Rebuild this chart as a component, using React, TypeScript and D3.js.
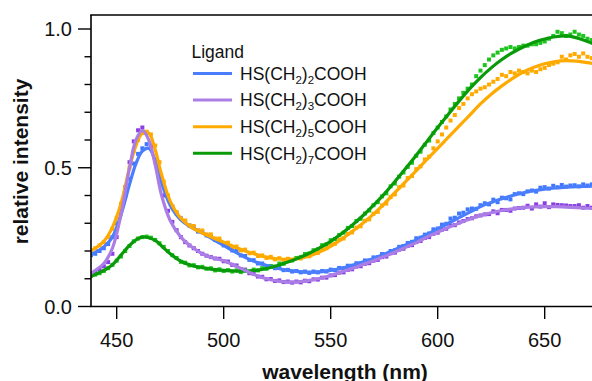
import React from "react";
import * as d3 from "d3";

const W = 592;
const H = 381;

const xTicks = [450, 500, 550, 600, 650];
const yMajor = [0.0, 0.5, 1.0];
const yMinor = [0.1, 0.2, 0.3, 0.4, 0.6, 0.7, 0.8, 0.9];

const legendSubs = ["2", "3", "5", "7"];

const fitWl = [436, 440, 444, 448, 452, 456, 459, 462, 465, 468, 471, 475, 480, 485, 490, 495, 500, 505, 510, 515, 520, 525, 530, 535, 540, 545, 550, 555, 560, 565, 570, 575, 580, 585, 590, 595, 600, 605, 610, 615, 620, 625, 630, 635, 640, 645, 650, 655, 660, 665, 670, 675];

const fitBlue = [0.18, 0.195, 0.215, 0.25, 0.33, 0.44, 0.515, 0.56, 0.57, 0.525, 0.445, 0.365, 0.312, 0.285, 0.265, 0.242, 0.22, 0.198, 0.177, 0.16, 0.148, 0.138, 0.13, 0.126, 0.124, 0.125, 0.13, 0.138, 0.148, 0.16, 0.173, 0.188, 0.205, 0.222, 0.24, 0.26, 0.28, 0.30, 0.32, 0.34, 0.36, 0.375, 0.388, 0.40, 0.41, 0.418, 0.423, 0.427, 0.43, 0.432, 0.433, 0.434];
const fitPurple = [0.11, 0.13, 0.155, 0.21, 0.33, 0.50, 0.60, 0.635, 0.60, 0.51, 0.40, 0.31, 0.25, 0.215, 0.19, 0.175, 0.165, 0.148, 0.13, 0.113, 0.10, 0.092, 0.088, 0.089, 0.094, 0.102, 0.112, 0.124, 0.137, 0.151, 0.165, 0.18, 0.196, 0.213, 0.23, 0.25, 0.268, 0.285, 0.30, 0.315, 0.328, 0.338, 0.346, 0.352, 0.356, 0.359, 0.36, 0.36, 0.358, 0.356, 0.354, 0.352];
const fitOrange = [0.195, 0.21, 0.235, 0.285, 0.37, 0.50, 0.58, 0.625, 0.625, 0.565, 0.475, 0.38, 0.318, 0.285, 0.265, 0.248, 0.232, 0.215, 0.20, 0.188, 0.178, 0.172, 0.17, 0.173, 0.182, 0.197, 0.217, 0.242, 0.27, 0.30, 0.333, 0.37, 0.41, 0.45, 0.49, 0.53, 0.57, 0.61, 0.65, 0.69, 0.73, 0.765, 0.795, 0.822, 0.845, 0.862, 0.875, 0.883, 0.886, 0.884, 0.879, 0.873];
const fitGreen = [0.105, 0.115, 0.13, 0.15, 0.185, 0.22, 0.24, 0.25, 0.248, 0.238, 0.218, 0.19, 0.163, 0.148, 0.14, 0.134, 0.13, 0.128, 0.127, 0.13, 0.137, 0.147, 0.16, 0.175, 0.192, 0.212, 0.235, 0.262, 0.293, 0.327, 0.365, 0.405, 0.45, 0.497, 0.545, 0.595, 0.645, 0.693, 0.74, 0.785, 0.825, 0.86, 0.89, 0.915, 0.935, 0.952, 0.964, 0.972, 0.975, 0.968, 0.955, 0.94];

// measured spectra, 438..672 nm every 2 nm (rows of 10 values = 20 nm)
const dataWl = d3.range(438, 673, 2);

const dataBlue = [
  0.185, 0.19, 0.20, 0.21, 0.225, 0.25, 0.30, 0.345, 0.40, 0.46,
  0.515, 0.55, 0.57, 0.585, 0.57, 0.53, 0.48, 0.43, 0.39, 0.36,
  0.335, 0.318, 0.306, 0.292, 0.285, 0.27, 0.268, 0.256, 0.254, 0.24,
  0.235, 0.22, 0.218, 0.202, 0.20, 0.184, 0.182, 0.168, 0.167, 0.155,
  0.155, 0.146, 0.146, 0.138, 0.139, 0.131, 0.132, 0.126, 0.128, 0.123,
  0.126, 0.121, 0.126, 0.123, 0.128, 0.126, 0.133, 0.131, 0.139, 0.138,
  0.147, 0.147, 0.156, 0.156, 0.166, 0.166, 0.177, 0.178, 0.189, 0.188,
  0.20, 0.203, 0.215, 0.218, 0.229, 0.233, 0.246, 0.248, 0.259, 0.263,
  0.278, 0.281, 0.295, 0.298, 0.317, 0.32, 0.335, 0.338, 0.35, 0.353,
  0.352, 0.365, 0.372, 0.368, 0.385, 0.376, 0.392, 0.39, 0.386, 0.405,
  0.408, 0.405, 0.415, 0.418, 0.414, 0.428, 0.43, 0.425, 0.435, 0.43,
  0.438, 0.432, 0.436, 0.437, 0.433, 0.44, 0.436, 0.44,
];
const dataPurple = [
  0.115, 0.125, 0.135, 0.145, 0.16, 0.19, 0.25, 0.34, 0.43, 0.52,
  0.595, 0.635, 0.645, 0.625, 0.58, 0.53, 0.46, 0.40, 0.345, 0.305,
  0.275, 0.25, 0.232, 0.22, 0.21, 0.20, 0.19, 0.183, 0.178, 0.173,
  0.172, 0.163, 0.162, 0.15, 0.148, 0.135, 0.133, 0.12, 0.118, 0.108,
  0.107, 0.098, 0.099, 0.092, 0.094, 0.088, 0.09, 0.086, 0.09, 0.087,
  0.093, 0.091, 0.098, 0.097, 0.104, 0.104, 0.112, 0.113, 0.122, 0.123,
  0.132, 0.134, 0.144, 0.145, 0.154, 0.156, 0.165, 0.168, 0.178, 0.18,
  0.192, 0.194, 0.205, 0.208, 0.218, 0.221, 0.232, 0.236, 0.247, 0.25,
  0.262, 0.266, 0.277, 0.28, 0.292, 0.293, 0.303, 0.308, 0.315, 0.318,
  0.325, 0.328, 0.332, 0.333, 0.343, 0.336, 0.348, 0.348, 0.345, 0.353,
  0.355, 0.356, 0.363, 0.353, 0.368, 0.36, 0.372, 0.358, 0.368, 0.366,
  0.365, 0.364, 0.362, 0.362, 0.365, 0.356, 0.362, 0.356,
];
const dataOrange = [
  0.20, 0.21, 0.22, 0.232, 0.25, 0.28, 0.32, 0.37, 0.43, 0.50,
  0.56, 0.60, 0.625, 0.63, 0.62, 0.58, 0.52, 0.45, 0.40, 0.36,
  0.34, 0.316, 0.31, 0.292, 0.29, 0.275, 0.274, 0.26, 0.26, 0.245,
  0.245, 0.229, 0.23, 0.214, 0.216, 0.202, 0.205, 0.192, 0.194, 0.182,
  0.184, 0.175, 0.179, 0.17, 0.174, 0.168, 0.172, 0.168, 0.174, 0.173,
  0.182, 0.181, 0.194, 0.193, 0.209, 0.21, 0.224, 0.226, 0.241, 0.245,
  0.262, 0.267, 0.284, 0.289, 0.309, 0.314, 0.334, 0.341, 0.364, 0.371,
  0.394, 0.404, 0.43, 0.436, 0.463, 0.47, 0.495, 0.505, 0.53, 0.54,
  0.57, 0.595, 0.62, 0.645, 0.67, 0.69, 0.715, 0.73, 0.75, 0.765,
  0.775, 0.785, 0.79, 0.80, 0.81, 0.82, 0.835, 0.83, 0.845, 0.84,
  0.85, 0.845, 0.84, 0.85, 0.845, 0.855, 0.86, 0.87, 0.875, 0.88,
  0.90, 0.89, 0.905, 0.91, 0.90, 0.912, 0.90, 0.895,
];
const dataGreen = [
  0.11, 0.115, 0.12, 0.128, 0.138, 0.15, 0.165, 0.18, 0.20, 0.218,
  0.235, 0.245, 0.25, 0.252, 0.248, 0.24, 0.228, 0.215, 0.20, 0.185,
  0.175, 0.161, 0.158, 0.148, 0.149, 0.141, 0.143, 0.136, 0.138, 0.13,
  0.134, 0.128, 0.131, 0.126, 0.13, 0.124, 0.13, 0.126, 0.133, 0.13,
  0.138, 0.136, 0.145, 0.144, 0.155, 0.154, 0.165, 0.166, 0.175, 0.178,
  0.189, 0.191, 0.203, 0.206, 0.221, 0.224, 0.239, 0.243, 0.258, 0.266,
  0.283, 0.29, 0.308, 0.316, 0.335, 0.346, 0.365, 0.376, 0.397, 0.408,
  0.433, 0.443, 0.468, 0.483, 0.503, 0.518, 0.543, 0.558, 0.583, 0.598,
  0.625, 0.645, 0.665, 0.685, 0.71, 0.73, 0.75, 0.77, 0.785, 0.80,
  0.83, 0.85, 0.87, 0.89, 0.905, 0.915, 0.925, 0.93, 0.935, 0.93,
  0.935, 0.94, 0.94, 0.945, 0.945, 0.95, 0.955, 0.965, 0.975, 0.99,
  0.985, 0.975, 0.98, 0.99, 0.98, 0.975, 0.965, 0.96,
];

const series = [
  { sub: legendSubs[0], fit: fitBlue, data: dataBlue, fitColor: "#4a7eff", dataColor: "#3f78ff" },
  { sub: legendSubs[1], fit: fitPurple, data: dataPurple, fitColor: "#ab7ee6", dataColor: "#8a3fe3" },
  { sub: legendSubs[2], fit: fitOrange, data: dataOrange, fitColor: "#ffaa00", dataColor: "#ffaa00" },
  { sub: legendSubs[3], fit: fitGreen, data: dataGreen, fitColor: "#089a08", dataColor: "#1ec41e" },
];
const fitOrder = [0, 2, 3, 1];

const LEFT = 91;
const TOP = 15;
const BOTTOM = 306.5;
const RIGHT = 600;

export default function App() {
  const x = d3.scaleLinear().domain([438, 672]).range([91, 591.76]);
  const y = d3.scaleLinear().domain([0, 1]).range([306.5, 29]);
  const line = d3
    .line<[number, number]>()
    .x((d) => x(d[0]))
    .y((d) => y(d[1]))
    .curve(d3.curveCatmullRom.alpha(0.5));
  const font = "'Liberation Sans', Arial, Helvetica, sans-serif";
  const ms = 4;

  return (
    <svg
      width={W}
      height={H}
      style={{ position: "absolute", left: 0, top: 0, background: "#fff" }}
      fontFamily={font}
    >
      <defs>
        <clipPath id="plot">
          <rect x={LEFT} y={TOP} width={RIGHT - LEFT} height={BOTTOM - TOP} />
        </clipPath>
      </defs>
      <g clipPath="url(#plot)">
        {series.map((s, i) => (
          <g key={"d" + i} fill={s.dataColor}>
            {dataWl.map((w, j) =>
              s.data[j] === undefined ? null : (
                <rect key={j} x={x(w) - ms / 2} y={y(s.data[j]) - ms / 2} width={ms} height={ms} />
              )
            )}
          </g>
        ))}
        {fitOrder.map((i) => {
          const s = series[i];
          const pts = fitWl.map((w, j) => [w, s.fit[j]] as [number, number]);
          return (
            <path key={"f" + i} d={line(pts) || ""} fill="none" stroke={s.fitColor} strokeWidth={3.2} strokeLinejoin="round" />
          );
        })}
      </g>
      {/* frame */}
      <line x1={LEFT} y1={TOP} x2={LEFT} y2={BOTTOM} stroke="#000" strokeWidth={1.6} />
      <line x1={LEFT - 0.8} y1={BOTTOM} x2={RIGHT} y2={BOTTOM} stroke="#000" strokeWidth={1.6} />
      <line x1={LEFT - 0.8} y1={TOP} x2={RIGHT} y2={TOP} stroke="#000" strokeWidth={1.6} />
      {/* y ticks */}
      {yMajor.map((v) => (
        <g key={"ym" + v}>
          <line x1={LEFT - 13} x2={LEFT} y1={y(v)} y2={y(v)} stroke="#000" strokeWidth={1.4} />
          <text x={72} y={y(v)} dy="0.36em" textAnchor="end" fontSize={20} fill="#111">
            {d3.format(".1f")(v)}
          </text>
        </g>
      ))}
      {yMinor.map((v) => (
        <line key={"yn" + v} x1={LEFT - 6.5} x2={LEFT} y1={y(v)} y2={y(v)} stroke="#000" strokeWidth={1.4} />
      ))}
      {/* x ticks */}
      {xTicks.map((t) => (
        <g key={"x" + t}>
          <line x1={x(t)} x2={x(t)} y1={BOTTOM} y2={BOTTOM + 12.5} stroke="#000" strokeWidth={1.4} />
          <text x={x(t)} y={346.5} textAnchor="middle" fontSize={20} fill="#111">
            {t}
          </text>
        </g>
      ))}
      {/* axis titles */}
      <text
        transform={`translate(27.5,161.5) rotate(-90)`}
        textAnchor="middle"
        fontSize={21}
        fontWeight="bold"
        fill="#111"
      >
        relative intensity
      </text>
      <text x={345} y={378.5} textAnchor="middle" fontSize={21} fontWeight="bold" fill="#111">
        wavelength (nm)
      </text>
      {/* legend */}
      <text x={191.5} y={57.5} fontSize={17.5} fill="#111">
        Ligand
      </text>
      {series.map((s, i) => {
        const ly = 73.5 + i * 26.6;
        return (
          <g key={"l" + i}>
            <line x1={193} x2={232} y1={ly} y2={ly} stroke={s.fitColor} strokeWidth={3} />
            <text x={240} y={ly + 6.3} fontSize={17.5} fill="#111">
              HS(CH
              <tspan fontSize={11.5} dy={4}>2</tspan>
              <tspan dy={-4}>)</tspan>
              <tspan fontSize={11.5} dy={4}>{s.sub}</tspan>
              <tspan dy={-4}>COOH</tspan>
            </text>
          </g>
        );
      })}
    </svg>
  );
}
